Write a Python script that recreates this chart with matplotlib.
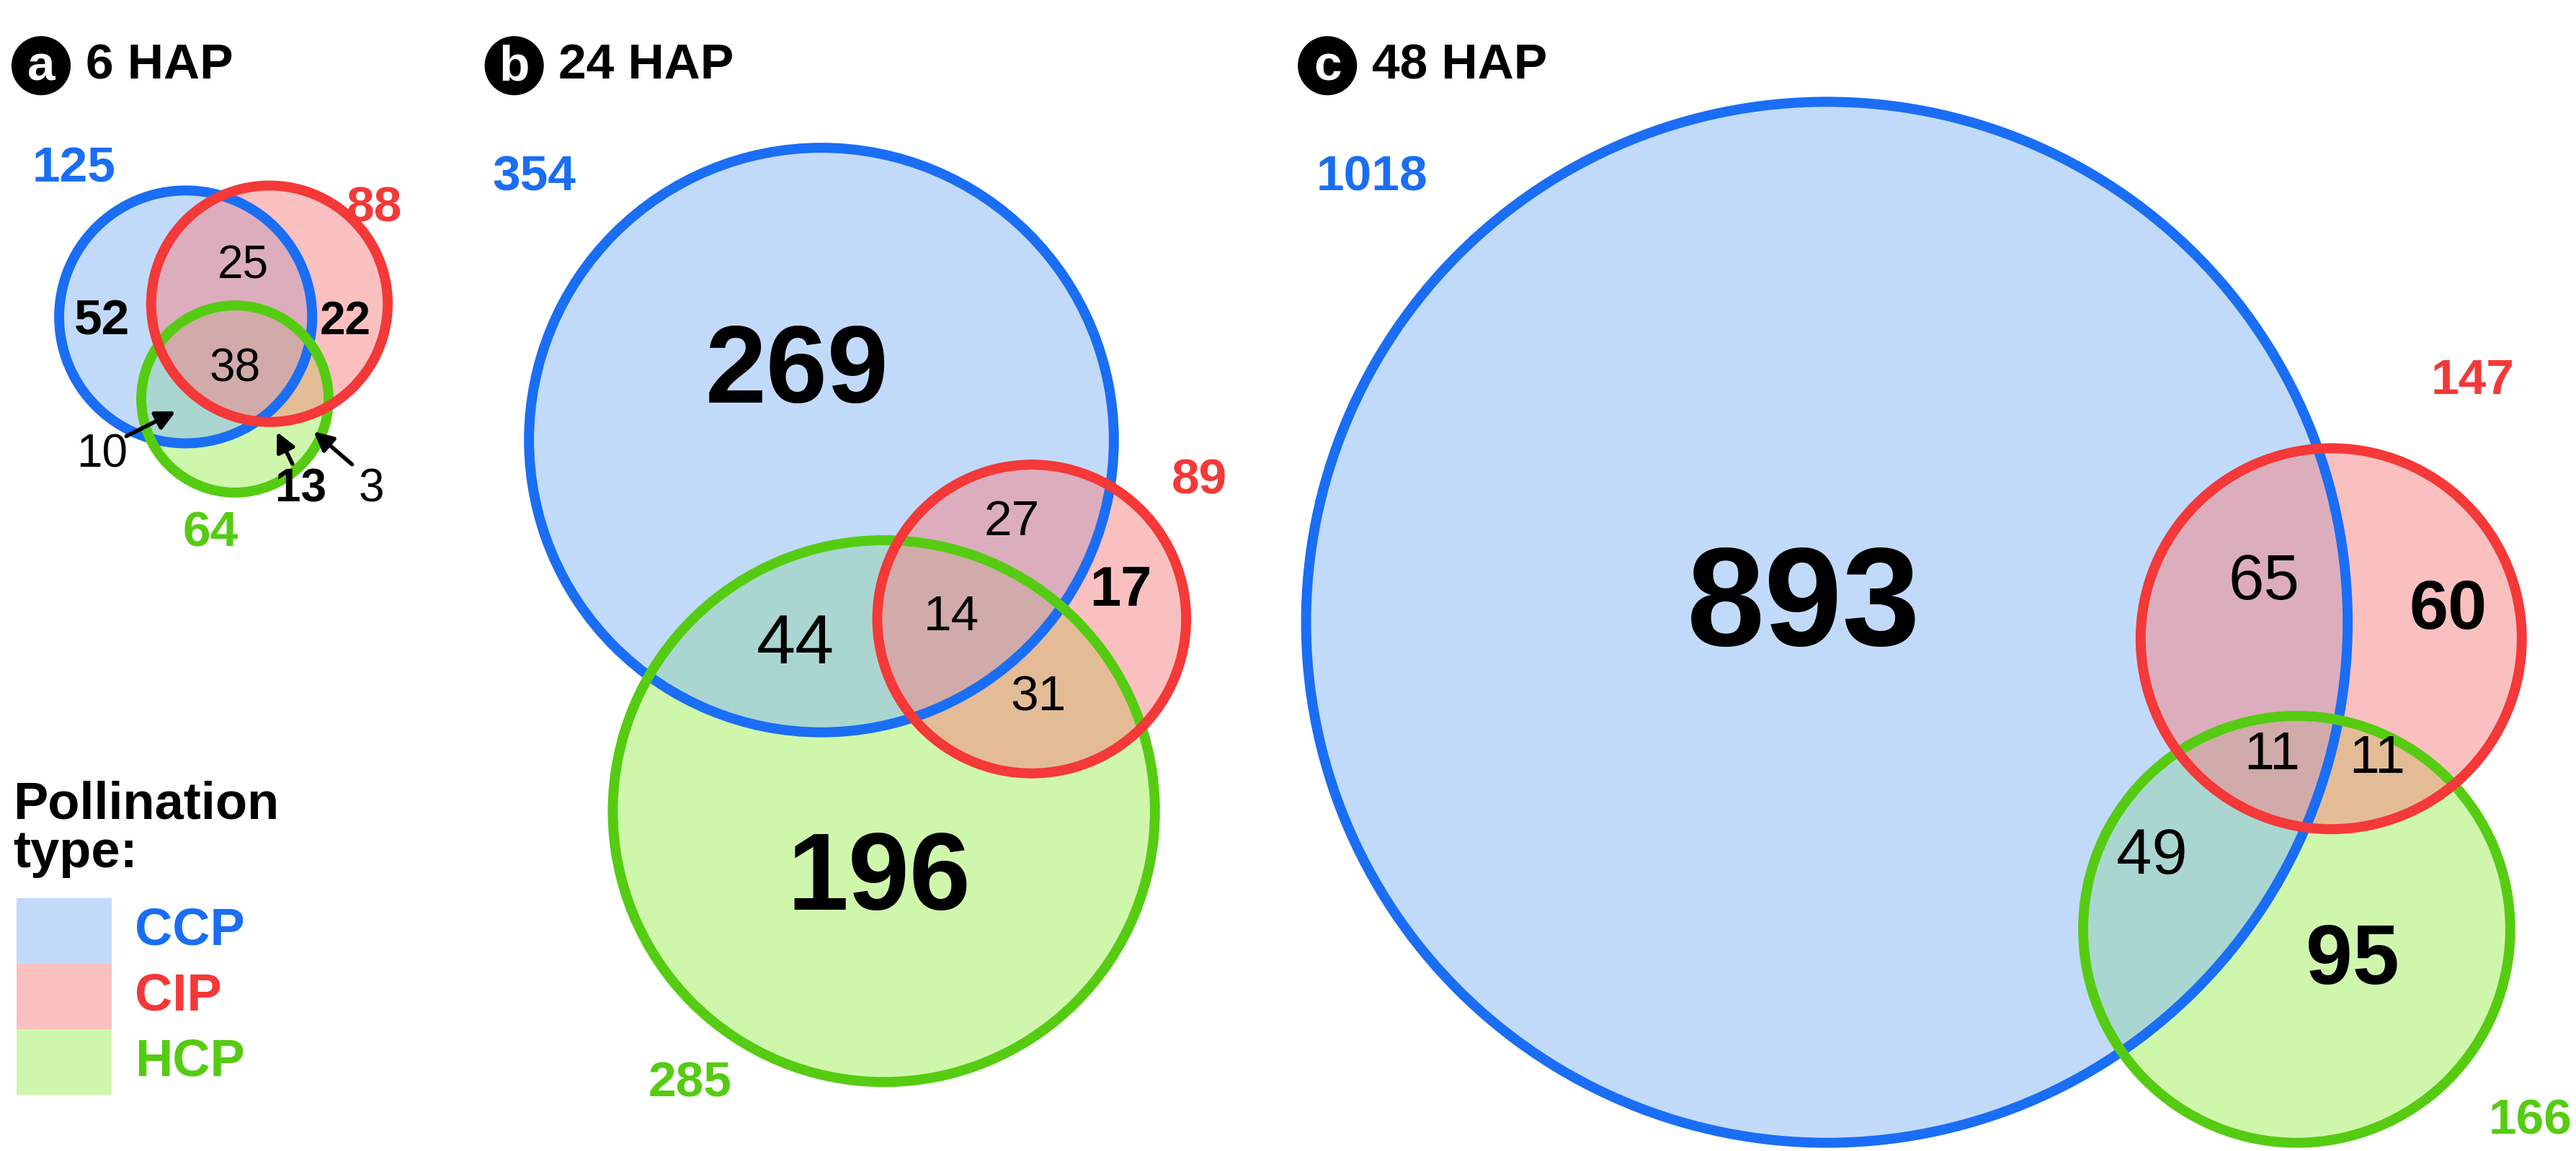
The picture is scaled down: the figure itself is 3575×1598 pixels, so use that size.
import matplotlib
matplotlib.use("Agg")
import matplotlib.pyplot as plt
from matplotlib.patches import Circle, Rectangle

plt.rcParams['font.family'] = ['Liberation Sans', 'DejaVu Sans']

sets = ["CCP", "CIP", "HCP"]
edge = {"CCP": "#1a6ef5", "CIP": "#f53838", "HCP": "#55cc11"}
fill = {"CCP": "#86b6f7", "CIP": "#f78282", "HCP": "#a0f05a"}

panels = ["a", "b", "c"]
titles = ["6 HAP", "24 HAP", "48 HAP"]
totals = {"a": [125, 88, 64], "b": [354, 89, 285], "c": [1018, 147, 166]}
# region counts: only-CCP, CCP&CIP, only-CIP, all, CCP&HCP, CIP&HCP, only-HCP
regions = {"a": [52, 25, 22, 38, 10, 3, 13],
           "b": [269, 27, 17, 14, 44, 31, 196],
           "c": [893, 65, 60, 11, 49, 11, 95]}

# layout (positions in display units)
circ = {"a": [(113, 193, 77), (164, 185, 72), (143, 243, 57)],
        "b": [(500, 268, 178), (628, 377, 94), (538, 494, 165)],
        "c": [(1112, 379, 317), (1419, 389, 116), (1398, 566, 130)]}
tot_pos = {"a": [(45, 103), (228, 127), (128, 325)],
           "b": [(325, 108), (730, 293), (420, 660)],
           "c": [(835, 108), (1505, 232), (1540, 683)]}
reg_pos = {"a": [(62, 196), (148, 162), (210, 196), (143, 225), (62, 277), (226, 298), (183, 298)],
           "b": [(485, 228), (616, 318), (682, 360), (579, 376), (484, 393), (632, 425), (535, 537)],
           "c": [(1098, 371), (1378, 355), (1490, 372), (1383, 460), (1310, 522), (1447, 462), (1432, 586)]}
reg_bold = [True, False, True, False, False, False, True]
reg_size = {"a": [50, 46, 46, 46, 46, 46, 46], "b": [110, 50, 56, 50, 70, 50, 110],
            "c": [140, 64, 70, 54, 64, 54, 84]}
arrows_a = {4: (108, 250), 5: (190, 262), 6: (168, 262)}
badge = {"a": (25, 40), "b": (313, 40), "c": (808, 40)}
fill_order = [2, 0, 1]

fig = plt.figure(figsize=(35.75, 15.98), dpi=100)
ax = fig.add_axes([0, 0, 1, 1])
ax.set_xlim(0, 1568)
ax.set_ylim(701, 0)
ax.axis('off')

for p, t in zip(panels, titles):
    for k in fill_order:
        x, y, r = circ[p][k]
        ax.add_patch(Circle((x, y), r, facecolor=fill[sets[k]], alpha=0.5, edgecolor='none'))
    for k in [0, 2, 1]:
        x, y, r = circ[p][k]
        ax.add_patch(Circle((x, y), r, facecolor='none', edgecolor=edge[sets[k]], lw=10))
    for s, v, (x, y) in zip(sets, totals[p], tot_pos[p]):
        ax.text(x, y, str(v), color=edge[s], fontsize=50, fontweight='bold', ha='center', va='center')
    for i, (v, (x, y)) in enumerate(zip(regions[p], reg_pos[p])):
        ax.text(x, y, str(v), fontsize=reg_size[p][i], fontweight='bold' if reg_bold[i] else 'normal',
                ha='center', va='center', color='black')
        if p == "a" and i in arrows_a:
            tx, ty = arrows_a[i]
            ax.annotate("", xy=(tx, ty), xytext=(x + (tx - x) * 0.3, y + (ty - y) * 0.4),
                        arrowprops=dict(arrowstyle='-|>', color='black', lw=4, mutation_scale=40))
    bx, by = badge[p]
    ax.add_patch(Circle((bx, by), 18, facecolor='black'))
    ax.text(bx, by + 1, p, color='white', fontsize=50, fontweight='bold', ha='center', va='center')
    ax.text(bx + 27, by, t, fontsize=50, fontweight='bold', ha='left', va='center')

ax.text(8, 505, "Pollination\ntype:", fontsize=52, fontweight='bold', ha='left', va='center', linespacing=1.0)
for s, y in zip(sets, [567, 607, 647]):
    ax.add_patch(Rectangle((10, y - 20), 58, 40, facecolor=fill[s], alpha=0.5, edgecolor='none'))
    ax.text(82, y, s, color=edge[s], fontsize=52, fontweight='bold', ha='left', va='center')

fig.savefig("out.png", dpi=100)
